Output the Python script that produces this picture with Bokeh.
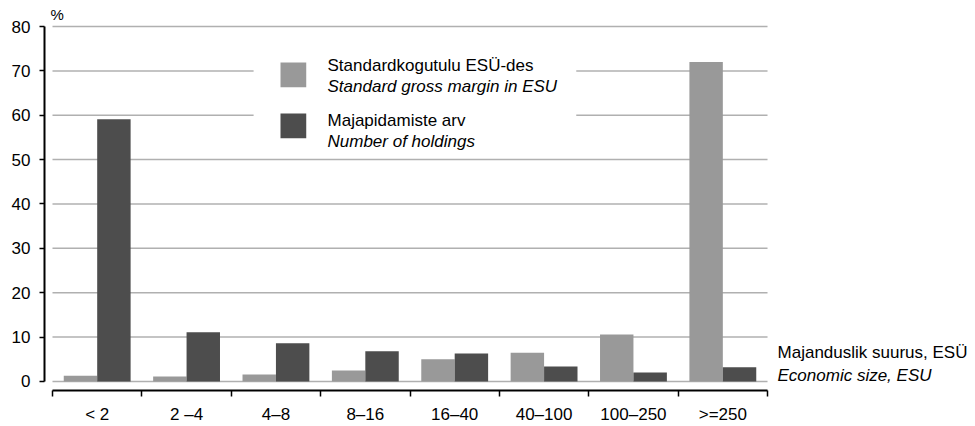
import numpy as np
from bokeh.plotting import figure
from bokeh.models import Range1d, FixedTicker, BoxAnnotation, Label
from bokeh.embed import file_html
from bokeh.resources import INLINE

# ---- data ----
categories = ["< 2", "2 \u20134", "4\u20138", "8\u201316", "16\u201340", "40\u2013100", "100\u2013250", ">=250"]
gross_margin = [1.3, 1.1, 1.6, 2.5, 5.0, 6.5, 10.6, 72.0]
holdings = [59.1, 11.1, 8.6, 6.8, 6.3, 3.4, 2.0, 3.2]
y_ticks = [0, 10, 20, 30, 40, 50, 60, 70, 80]
series_et = ["Standardkogutulu ES\u00dc-des", "Majapidamiste arv"]
series_en = ["Standard gross margin in ESU", "Number of holdings"]
xtitle_et = "Majanduslik suurus, ES\u00dc"
xtitle_en = "Economic size, ESU"
unit_label = "%"

colors = ["#999999", "#4d4d4d"]
FONT = "Liberation Sans"
FS = "17px"

n = len(categories)
idx = np.arange(n)
centers = idx + 0.5
off = 0.187
bw = 0.374

p = figure(width=975, height=426,
           x_range=Range1d(-0.0895, 10.327), y_range=Range1d(-2.03, 85.86),
           output_backend="svg", toolbar_location=None,
           min_border_left=44, min_border_right=0,
           min_border_top=0, min_border_bottom=36)
p.outline_line_color = None
p.background_fill_color = "white"
p.border_fill_color = "white"

# grids (only across the category span)
p.xgrid.visible = False
p.ygrid.visible = False
grid = p.segment(x0=[0] * len(y_ticks), x1=[n] * len(y_ticks), y0=y_ticks, y1=y_ticks,
                 line_color="#b0b0b0", line_width=1.5)
grid.level = "underlay"

# y axis
ya = p.yaxis[0]
ya.ticker = FixedTicker(ticks=y_ticks)
ya.bounds = (0, 80)
ya.axis_line_width = 2
ya.axis_line_color = "black"
ya.major_tick_out = 5
ya.major_tick_in = 0
ya.major_tick_line_width = 1.5
ya.major_tick_line_color = "black"
ya.minor_tick_line_color = None
ya.major_label_standoff = 9
ya.major_label_text_font = FONT
ya.major_label_text_font_size = FS
ya.major_label_text_color = "black"

# x axis
xa = p.xaxis[0]
xa.ticker = FixedTicker(ticks=[float(c) for c in centers],
                        minor_ticks=[float(i) for i in range(n + 1)])
xa.bounds = (0, n)
xa.axis_line_width = 2
xa.axis_line_color = "black"
xa.major_tick_line_color = None
xa.minor_tick_out = 6
xa.minor_tick_in = 0
xa.minor_tick_line_width = 1.5
xa.minor_tick_line_color = "black"
xa.major_label_overrides = {float(c): lab for c, lab in zip(centers, categories)}
xa.major_label_standoff = 8
xa.major_label_text_font = FONT
xa.major_label_text_font_size = FS
xa.major_label_text_color = "black"

# bars
p.vbar(x=centers - off, top=gross_margin, width=bw, fill_color=colors[0], line_color=None)
p.vbar(x=centers + off, top=holdings, width=bw, fill_color=colors[1], line_color=None)

# legend (manual, two-line labels with italic English)
p.add_layout(BoxAnnotation(left=2.25, right=5.86, bottom=52.5, top=76.5,
                           fill_color="white", fill_alpha=1.0, line_color=None))
p.add_layout(BoxAnnotation(left=2.551, right=2.839, bottom=66.3, top=71.9,
                           fill_color=colors[0], fill_alpha=1.0, line_color=None))
p.add_layout(BoxAnnotation(left=2.551, right=2.839, bottom=54.8, top=60.4,
                           fill_color=colors[1], fill_alpha=1.0, line_color=None))
for txt, yy, style in [(series_et[0], 71.2, "normal"), (series_en[0], 66.5, "italic"),
                       (series_et[1], 58.8, "normal"), (series_en[1], 54.0, "italic")]:
    p.add_layout(Label(x=3.077, y=yy, text=txt, text_baseline="middle", text_align="left",
                       text_font=FONT, text_font_size=FS, text_font_style=style,
                       text_color="black"))

# axis titles
p.add_layout(Label(x=-0.022, y=82.7, text=unit_label, text_baseline="middle", text_align="left",
                   text_font=FONT, text_font_size="15px", text_color="black"))
p.add_layout(Label(x=8.112, y=6.5, text=xtitle_et, text_baseline="middle", text_align="left",
                   text_font=FONT, text_font_size=FS, text_color="black"))
p.add_layout(Label(x=8.112, y=1.35, text=xtitle_en, text_baseline="middle", text_align="left",
                   text_font=FONT, text_font_size=FS, text_font_style="italic",
                   text_color="black"))

open("out.html", "w").write(file_html(p, INLINE))
